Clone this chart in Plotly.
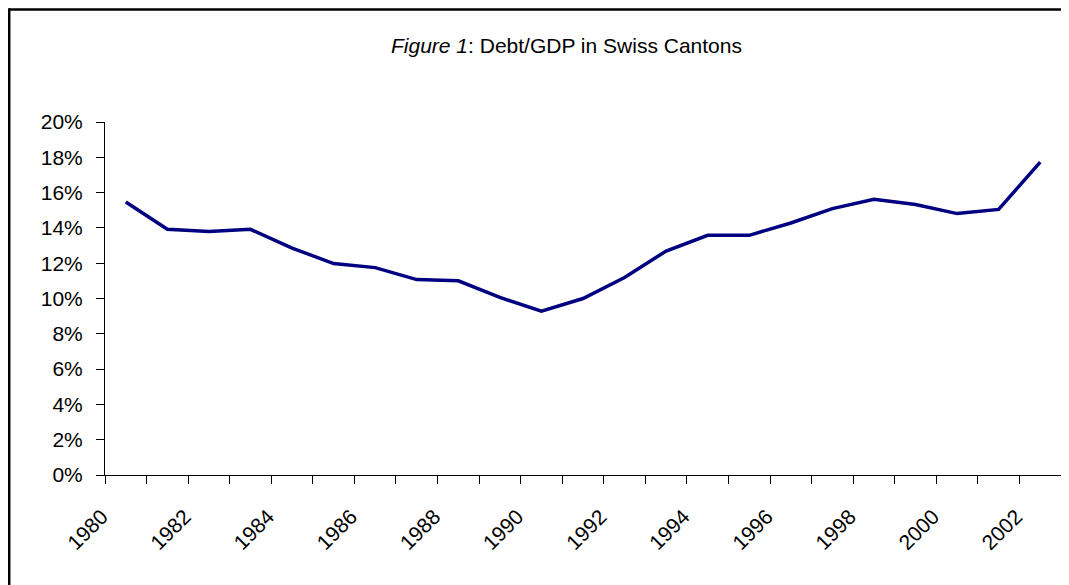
import plotly.graph_objects as go

years = list(range(1980, 2003))
debt_gdp = [15.47, 13.92, 13.79, 13.92, 12.86, 11.98, 11.75, 11.07, 11.0, 10.06, 9.28,
            10.0, 11.19, 12.69, 13.58, 13.58, 14.28, 15.09, 15.62, 15.32, 14.81, 15.05, 17.73]
y_ticks = list(range(0, 21, 2))
x_label_years = list(range(1980, 2003, 2))
title_html = "<i>Figure 1</i>: Debt/GDP in Swiss Cantons"

# page body has an 8px margin; figure is placed at (8, 8)
W, H = 1053, 577
L, R, T, B = 97, 0, 114, 110
pw, ph = W - L - R, H - T - B

def px_x(p):
    return (p - L) / pw

def px_y(p):
    return (H - B - p) / ph

font = dict(family="Liberation Sans, Arial, sans-serif", size=21, color="black")

fig = go.Figure()
fig.add_trace(go.Scatter(x=years, y=debt_gdp, mode="lines",
                         line=dict(color="#000080", width=3.5), showlegend=False,
                         hoverinfo="x+y", cliponaxis=False))
# invisible trace to anchor the tick-mark axis
fig.add_trace(go.Scatter(x=[years[0], years[-1]], y=[0, 0], xaxis="x2", mode="lines",
                         line=dict(width=0), showlegend=False, hoverinfo="skip"))

xr = [years[0] - 0.5, years[-1] + 0.5]
fig.update_layout(
    width=W, height=H,
    margin=dict(l=L, r=R, t=T, b=B, pad=0),
    paper_bgcolor="white", plot_bgcolor="white",
    font=font,
    xaxis=dict(range=xr, tickmode="array", tickvals=x_label_years,
               ticktext=[str(v) for v in x_label_years], tickangle=-45,
               ticks="", showgrid=False, zeroline=False, showline=True,
               linecolor="black", linewidth=1, ticklabelstandoff=20,
               ticklabelshift=-24, tickfont=font),
    xaxis2=dict(range=xr, overlaying="x", side="bottom", anchor="y",
                tickmode="array", tickvals=[v + 0.5 for v in range(years[0] - 1, years[-1] + 1)],
                ticktext=["" for _ in range(len(years) + 1)], ticks="outside",
                ticklen=8, tickcolor="black", tickwidth=1, showgrid=False,
                zeroline=False, showline=False),
    yaxis=dict(range=[0, 20], tickmode="array", tickvals=y_ticks,
               ticktext=[f"{v}%" for v in y_ticks], ticks="outside", ticklen=8,
               tickcolor="black", showgrid=False, zeroline=False, showline=True,
               linecolor="black", linewidth=1, ticklabelstandoff=9, tickfont=font),
    shapes=[
        dict(type="line", xref="paper", yref="paper",
             x0=px_x(1), x1=px_x(W + 60), y0=px_y(1.5), y1=px_y(1.5),
             line=dict(color="black", width=2.5), layer="above"),
        dict(type="line", xref="paper", yref="paper",
             x0=px_x(1.2), x1=px_x(1.2), y0=px_y(H + 60), y1=px_y(0.3),
             line=dict(color="black", width=2.5), layer="above"),
    ],
    annotations=[dict(text=title_html, xref="paper", yref="paper",
                      x=px_x(558), y=px_y(37), xanchor="center", yanchor="middle",
                      showarrow=False, font=font)],
)

fig.write_html("out.html")
